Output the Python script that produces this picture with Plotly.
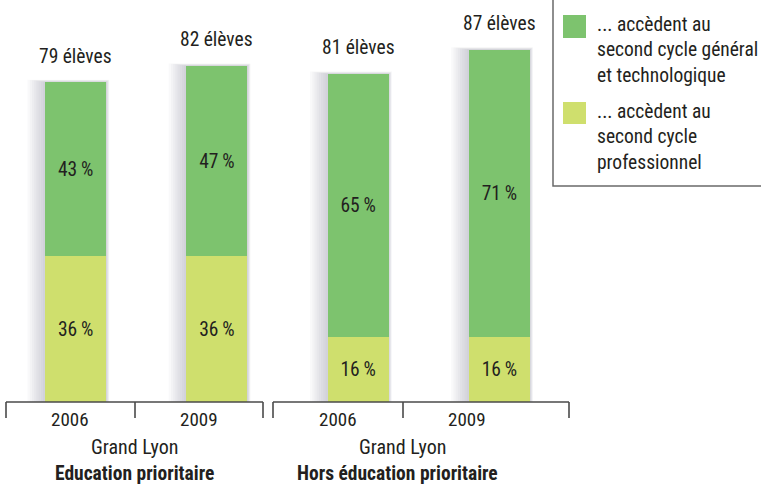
import plotly.graph_objects as go

# ---- data ----
groups = ["Education prioritaire", "Education prioritaire",
          "Hors éducation prioritaire", "Hors éducation prioritaire"]
years = ["2006", "2009", "2006", "2009"]
general_pct = [43, 47, 65, 71]
pro_pct = [36, 36, 16, 16]
eleves = [79, 82, 81, 87]
area_label = "Grand Lyon"
group_names = ["Education prioritaire", "Hors éducation prioritaire"]
name_general = "... accèdent au<br>second cycle général<br>et technologique"
name_pro = "... accèdent au<br>second cycle<br>professionnel"

# ---- style ----
FONT = "Roboto Condensed, Liberation Sans Narrow, Open Sans Condensed, Lato, sans-serif"
GREEN = "#7DC36E"
YELLOW = "#CFDF6D"
TXT = "#231F20"
AX = "#4a4a4a"

W, H = 761, 486
ML, MR, MT, MB = 5, 191, 0, 84
PW = W - ML - MR
PH = H - MT - MB
PX_PER_CAT = PW / 4.0
PX_PER_UNIT = 4.05
YMAX = PH / PX_PER_UNIT

keys = [f"{g} {y}" for g, y in zip(groups, years)]


def cx(px):  # pixel x -> category-axis units
    return (px - ML) / PX_PER_CAT - 0.5


def py(pyv):  # pixel y -> paper units
    return (H - MB - pyv) / PH


def pxp(px):  # pixel x -> paper
    return (px - ML) / PW


fig = go.Figure()
fig.add_trace(go.Bar(
    x=keys, y=pro_pct, name=name_pro, marker=dict(color=YELLOW, line=dict(width=0)),
    width=0.432, text=[f"{v}\u2009%" for v in pro_pct], textposition="inside",
    insidetextanchor="middle", textangle=0, constraintext="none",
    textfont=dict(family=FONT, size=19.5, color=TXT), hoverinfo="skip", showlegend=False))
fig.add_trace(go.Bar(
    x=keys, y=general_pct, name=name_general, marker=dict(color=GREEN, line=dict(width=0)),
    width=0.432, text=[f"{v}\u2009%" for v in general_pct], textposition="inside",
    insidetextanchor="middle", textangle=0, constraintext="none",
    textfont=dict(family=FONT, size=19.5, color=TXT), hoverinfo="skip", showlegend=False))

shapes = []
# soft shadows behind bars
half = 0.432 / 2
for i, (a, b) in enumerate(zip(pro_pct, general_pct)):
    top = a + b
    for k in range(1, 9):
        shapes.append(dict(
            type="rect", layer="below", xref="x", yref="y",
            x0=i - half - k * 2.2 / PX_PER_CAT, x1=i + half + k * 0.4 / PX_PER_CAT,
            y0=-k * 1.6 / PX_PER_UNIT, y1=top + k * 0.3 / PX_PER_UNIT,
            fillcolor="rgba(110,110,120,0.04)", line=dict(width=0)))

# axis segments with ticks
segments = [(6, [6, 135, 263]), (273, [273, 403, 569])]
for start, ticks in segments:
    shapes.append(dict(type="line", xref="x", yref="paper", x0=cx(ticks[0]), x1=cx(ticks[-1]),
                       y0=0, y1=0, line=dict(color=AX, width=1.6)))
    for t in ticks:
        shapes.append(dict(type="line", xref="x", yref="paper", x0=cx(t), x1=cx(t),
                           y0=0, y1=py(418), line=dict(color=AX, width=1.6)))

# legend box
shapes.append(dict(type="rect", xref="paper", yref="paper", x0=pxp(553), x1=pxp(770),
                   y0=py(186), y1=py(-10), line=dict(color="#6a6a6a", width=1.5),
                   fillcolor="rgba(0,0,0,0)"))
shapes.append(dict(type="rect", xref="paper", yref="paper", x0=pxp(563), x1=pxp(586),
                   y0=py(38), y1=py(15), line=dict(width=0), fillcolor=GREEN))
shapes.append(dict(type="rect", xref="paper", yref="paper", x0=pxp(563), x1=pxp(586),
                   y0=py(124), y1=py(102), line=dict(width=0), fillcolor=YELLOW))

ann = []
# élèves labels
for k, v, a, b in zip(keys, eleves, pro_pct, general_pct):
    ann.append(dict(x=k, y=a + b, xref="x", yref="y", text=f"{v} élèves", showarrow=False,
                    yanchor="middle", yshift=26, font=dict(family=FONT, size=19.5, color=TXT)))
# year labels
for xp, yr in zip([70, 199, 338, 467], years):
    ann.append(dict(x=cx(xp), y=py(420), xref="x", yref="paper", text=yr, showarrow=False,
                    yanchor="middle", font=dict(family=FONT, size=19, color=TXT)))
# group labels
for xp, gx, g in zip([134, 402], [134, 397], group_names):
    ann.append(dict(x=cx(xp), y=py(447), xref="x", yref="paper", text=area_label, showarrow=False,
                    yanchor="middle", font=dict(family=FONT, size=20, color=TXT)))
    ann.append(dict(x=cx(gx), y=py(473), xref="x", yref="paper", text=f"<b>{g}</b>", showarrow=False,
                    yanchor="middle", font=dict(family=FONT, size=19.5, color=TXT)))
# legend texts
ann.append(dict(x=pxp(595), y=py(50), xref="paper", yref="paper", text=name_general,
                showarrow=False, xanchor="left", yanchor="middle", align="left",
                font=dict(family=FONT, size=19.5, color=TXT)))
ann.append(dict(x=pxp(595), y=py(137), xref="paper", yref="paper", text=name_pro,
                showarrow=False, xanchor="left", yanchor="middle", align="left",
                font=dict(family=FONT, size=19.5, color=TXT)))

fig.update_layout(
    width=W, height=H, barmode="stack",
    margin=dict(l=ML, r=MR, t=MT, b=MB),
    paper_bgcolor="white", plot_bgcolor="white",
    xaxis=dict(type="category", range=[-0.5, 3.5], showticklabels=False, showgrid=False,
               zeroline=False, showline=False, ticks=""),
    yaxis=dict(range=[0, YMAX], visible=False),
    shapes=shapes, annotations=ann, showlegend=False,
    font=dict(family=FONT, color=TXT),
)

fig.write_html("out.html", config={"displayModeBar": False},
               post_script="document.body.style.margin='0';document.body.style.padding='0';")
